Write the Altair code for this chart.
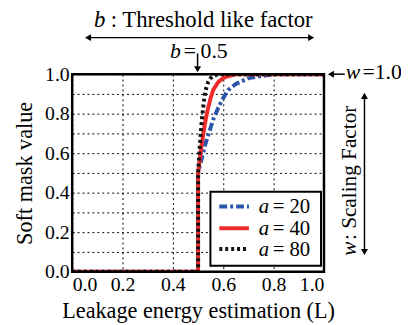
import altair as alt
import pandas as pd

# ---- data ----
L20 = [0.0, 0.5, 0.5, 0.51, 0.52, 0.53, 0.54, 0.55, 0.56, 0.57, 0.58, 0.60, 0.62, 0.65, 0.70, 0.75, 0.80, 1.0]
V20 = [0.0, 0.0, 0.50, 0.55, 0.60, 0.65, 0.69, 0.73, 0.77, 0.80, 0.83, 0.88, 0.92, 0.95, 0.98, 0.99, 1.0, 1.0]
L40 = [0.0, 0.5, 0.5, 0.505, 0.51, 0.515, 0.52, 0.525, 0.53, 0.54, 0.55, 0.56, 0.57, 0.58, 0.60, 0.62, 0.65, 1.0]
V40 = [0.0, 0.0, 0.50, 0.55, 0.60, 0.65, 0.69, 0.73, 0.77, 0.83, 0.88, 0.92, 0.94, 0.96, 0.98, 0.99, 1.0, 1.0]
L80 = [0.0, 0.5, 0.5, 0.505, 0.51, 0.515, 0.52, 0.525, 0.53, 0.54, 0.55, 0.56, 0.58, 1.0]
V80 = [0.0, 0.0, 0.50, 0.60, 0.69, 0.77, 0.83, 0.88, 0.92, 0.96, 0.98, 0.99, 1.0, 1.0]
SERIES = ["a = 20", "a = 40", "a = 80"]
COLORS = ["#2a55aa", "#ee2b2b", "#111111"]
DASHES = [[8, 3, 3, 3], [1, 0], [3, 3]]
X_TICKS = [0.0, 0.2, 0.4, 0.6, 0.8, 1.0]
Y_TICKS = [0.0, 0.1, 0.2, 0.3, 0.4, 0.5, 0.6, 0.7, 0.8, 0.9, 1.0]

rows = []
for name, Ls, Vs in zip(SERIES, [L20, L40, L80], [V20, V40, V80]):
    for i, (l, v) in enumerate(zip(Ls, Vs)):
        rows.append({"series": name, "L": l, "V": v, "idx": i})
df = pd.DataFrame(rows)
one = pd.DataFrame({"k": [0]})

FONT = "Liberation Serif"
W, H = 255, 200

lines = alt.Chart(df).mark_line(strokeWidth=4, clip=True).encode(
    x=alt.X("L:Q", scale=alt.Scale(domain=[0, 1], nice=False),
            axis=alt.Axis(values=X_TICKS, format=".1f", title="Leakage energy estimation (L)",
                          grid=True, gridColor="black", gridDash=[2, 3], gridWidth=1, gridOpacity=1,
                          ticks=False, domain=False, labelPadding=3, titlePadding=5)),
    y=alt.Y("V:Q", scale=alt.Scale(domain=[0, 1], nice=False),
            axis=alt.Axis(values=Y_TICKS, title="Soft mask value",
                          labelExpr="round(datum.value*10) % 2 == 0 ? format(datum.value, '.1f') : ''",
                          grid=True, gridColor="black", gridDash=[2, 3], gridWidth=1, gridOpacity=1,
                          ticks=False, domain=False, labelPadding=3, titlePadding=8)),
    color=alt.Color("series:N", scale=alt.Scale(domain=SERIES, range=COLORS), legend=None),
    strokeDash=alt.StrokeDash("series:N", scale=alt.Scale(domain=SERIES, range=DASHES), legend=None),
    order=alt.Order("idx:Q"),
    detail="series:N",
)

layers = [lines]

def txt(x, y, s, size=21, italic=False, align="left", angle=0, baseline="alphabetic"):
    kw = dict(align=align, baseline=baseline, font=FONT, fontSize=size, color="black")
    if italic:
        kw["fontStyle"] = "italic"
    if angle:
        kw["angle"] = angle
    return alt.Chart(one).mark_text(**kw).encode(x=alt.value(x), y=alt.value(y), text=alt.value(s))

def rule(x, x2, y, y2, w=1.5, color="black", dash=None):
    kw = dict(color=color, strokeWidth=w)
    if dash:
        kw["strokeDash"] = dash
    return alt.Chart(one).mark_rule(**kw).encode(x=alt.value(x), x2=alt.value(x2), y=alt.value(y), y2=alt.value(y2))

def head(x, y, shape, size=50):
    return alt.Chart(one).mark_point(shape=shape, filled=True, color="black", size=size, opacity=1).encode(
        x=alt.value(x), y=alt.value(y))

# frame on top of curves
layers.append(alt.Chart(one).mark_rect(fill=None, fillOpacity=0, stroke="black", strokeWidth=2.5).encode(
    x=alt.value(0), x2=alt.value(W), y=alt.value(0), y2=alt.value(H)))

# legend box
layers.append(alt.Chart(one).mark_rect(fill="white", stroke="black", strokeWidth=2).encode(
    x=alt.value(140), x2=alt.value(252), y=alt.value(119), y2=alt.value(194)))
for i, (yy, num) in enumerate(zip([134, 156, 177], ["20", "40", "80"])):
    layers.append(rule(149, 179, yy, yy, w=4, color=COLORS[i], dash=DASHES[i]))
    layers.append(txt(189, yy + 7, "a", size=21, italic=True))
    layers.append(txt(203, yy + 7, "= " + num, size=21))

# top annotations
layers.append(txt(22, -48, "b", size=23, italic=True))
layers.append(txt(39, -48, ": Threshold like factor", size=23))
layers.append(rule(18, 240, -37, -37))
layers.append(head(16, -37, "triangle-left"))
layers.append(head(242, -37, "triangle-right"))
layers.append(txt(99, -16, "b", size=22, italic=True))
layers.append(txt(113, -16, "=", size=22))
layers.append(txt(130, -16, "0.5", size=22))
layers.append(rule(127, 127, -21, -6))
layers.append(head(127, -5, "triangle-down"))

# right annotations
layers.append(rule(264, 276, 0, 0))
layers.append(head(262, 0, "triangle-left"))
layers.append(txt(277, 5, "w", size=22, italic=True))
layers.append(txt(294, 5, "=1.0", size=22))
layers.append(rule(296, 296, 24, 178))
layers.append(head(296, 22, "triangle-up"))
layers.append(head(296, 180, "triangle-down"))
layers.append(txt(287, 184, "w", size=21.5, italic=True, angle=270))
layers.append(txt(287, 168, ": Scaling Factor", size=21.5, angle=270))

chart = alt.layer(*layers).properties(
    width=W, height=H,
    padding={"left": 65, "top": 65, "right": 78, "bottom": 50},
    autosize=alt.AutoSizeParams(type="none"),
).configure_view(stroke=None).configure_axis(
    labelFont=FONT, labelFontSize=20, labelColor="black",
    titleFont=FONT, titleFontSize=22.5, titleFontWeight="normal", titleColor="black",
)

chart.save("out.html", embed_options={"renderer": "svg", "actions": False})
